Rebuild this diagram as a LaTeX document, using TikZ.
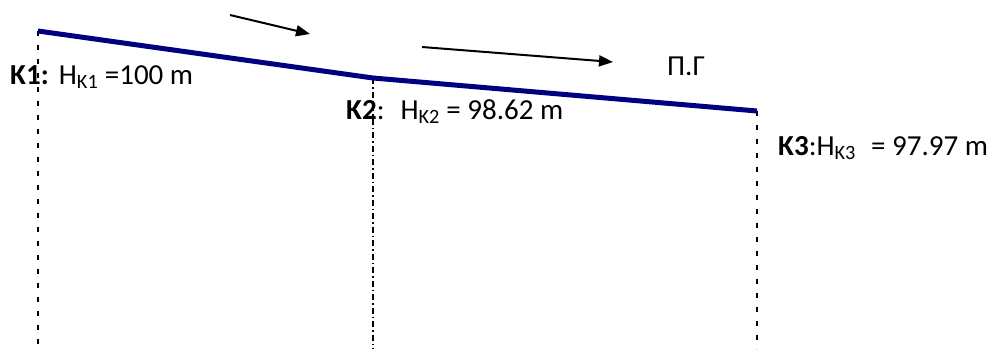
\documentclass[tikz,border=0pt]{standalone}
\usepackage{fontspec}
\setmainfont{Carlito}
\usetikzlibrary{arrows.meta}
\definecolor{pipeblue}{RGB}{0,0,128}
\tikzset{
  vline/.style={line width=1.6pt, dash pattern=on 5pt off 9pt},
  vlinedd/.style={line width=1.6pt, dash pattern=on 6pt off 3pt on 1.5pt off 3pt},
  pipe/.style={line width=5pt, pipeblue},
  flow/.style={line width=2pt, -{Triangle[length=14pt,width=11pt]}},
  lbl/.style={anchor=base west, inner sep=0pt, font=\fontsize{29}{33}\selectfont},
}
\begin{document}
\begin{tikzpicture}[x=1pt,y=-1pt]
\useasboundingbox (0,0) rectangle (987,349);
\coordinate (k1t) at (38,31);
\coordinate (k2t) at (373,78);
\coordinate (k3t) at (757,111);
\coordinate (k1b) at (38,349);
\coordinate (k2b) at (373,349);
\coordinate (k3b) at (757,349);
\draw[vline] (k1t) -- (k1b);
\draw[vlinedd] (k2t) -- (k2b);
\draw[vline] (k3t) -- (k3b);
\draw[pipe] (k1t) -- (k2t) -- (k3t);
\coordinate (a1s) at (230,15);
\coordinate (a1e) at (310,34);
\coordinate (a2s) at (422,47);
\coordinate (a2e) at (613,62);
\draw[flow] (a1s) -- (a1e);
\draw[flow] (a2s) -- (a2e);
\node[lbl] (pg) at (667,75) {П.Г};
\node[lbl] (l1) at (10,84) {\textbf{K1:}\hspace{0.35em}H\textsubscript{K1} =100 m};
\node[lbl] (l2) at (346,119) {\textbf{K2}:\hspace{0.25em} H\textsubscript{K2} = 98.62 m};
\node[lbl] (l3) at (778,155) {\textbf{K3}:H\textsubscript{K3}\hspace{0.3em} = 97.97 m};
\end{tikzpicture}
\end{document}
